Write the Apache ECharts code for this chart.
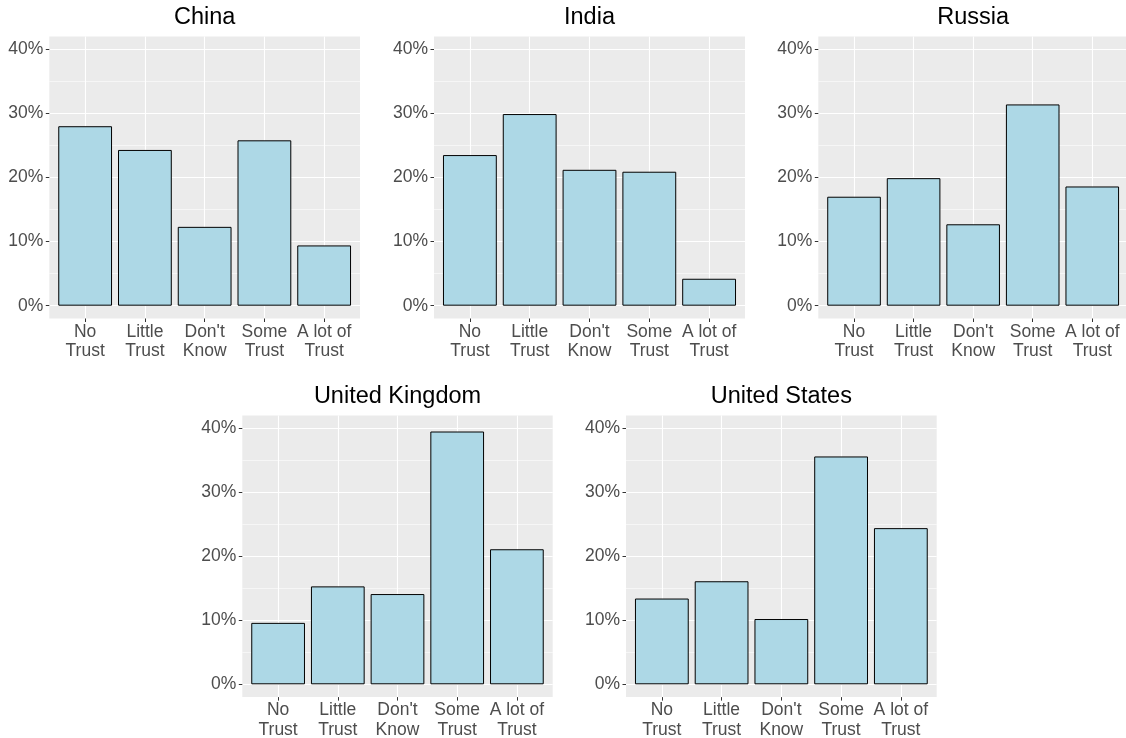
<!DOCTYPE html>
<html><head><meta charset="utf-8">
<script src="https://cdn.jsdelivr.net/npm/echarts@6/dist/echarts.min.js"></script>
<style>html,body{margin:0;padding:0;background:#fff}#c{width:1126px;height:738px}</style>
</head><body><div id="c"></div>
<script>
const categories = ['No\nTrust', 'Little\nTrust', "Don't\nKnow", 'Some\nTrust', 'A lot of\nTrust'];
const countries = ['China', 'India', 'Russia', 'United Kingdom', 'United States'];
const chinaValues = [28.0, 24.3, 12.3, 25.8, 9.4];
const indiaValues = [23.5, 29.9, 21.2, 20.9, 4.2];
const russiaValues = [17.0, 19.9, 12.7, 31.4, 18.6];
const ukValues = [9.6, 15.3, 14.1, 39.5, 21.1];
const usValues = [13.4, 16.1, 10.2, 35.6, 24.4];
const yTicks = [0, 10, 20, 30, 40];
const yMinorTicks = [5, 15, 25, 35];
const yTickLabels = ['0%', '10%', '20%', '30%', '40%'];

const seriesValues = [chinaValues, indiaValues, russiaValues, ukValues, usValues];
const panels = [
  {left: 49.3, top: 36.5, width: 310.7, height: 282},
  {left: 434, top: 36.5, width: 311, height: 282},
  {left: 818.3, top: 36.5, width: 309.7, height: 282},
  {left: 242.3, top: 415.5, width: 310.4, height: 281.6},
  {left: 626, top: 415.5, width: 310.7, height: 281.6}
];
const FONT = '"Liberation Sans", Arial, Helvetica, sans-serif';
const catIdx = categories.map((c, i) => i);

const grid = [], xAxis = [], yAxis = [], series = [], graphic = [];
panels.forEach((p, i) => {
  grid.push({left: p.left, top: p.top, width: p.width, height: p.height, show: true,
    backgroundColor: '#EBEBEB', borderWidth: 0, containLabel: false, outerBoundsMode: 'none'});
  xAxis.push({gridIndex: i, type: 'value', min: -0.6, max: 4.6, position: 'bottom',
    axisLine: {show: false, onZero: false},
    axisTick: {show: true, customValues: catIdx, length: 3.5, lineStyle: {color: '#333333', width: 1}},
    axisLabel: {customValues: catIdx, formatter: v => categories[Math.round(v)], color: '#4D4D4D',
      fontSize: 17.5, lineHeight: 19.5, margin: 3.5, fontFamily: FONT},
    splitLine: {show: true, lineStyle: {color: '#FFFFFF', width: 1.1}}
  });
  yAxis.push({gridIndex: i, type: 'value', min: -2, max: 42, position: 'left',
    axisLine: {show: false, onZero: false},
    axisTick: {show: true, customValues: yTicks, length: 3.5, lineStyle: {color: '#333333', width: 1}},
    axisLabel: {customValues: yTicks, formatter: v => yTickLabels[yTicks.indexOf(Math.round(v))],
      color: '#4D4D4D', fontSize: 17.5, margin: 6, fontFamily: FONT},
    splitLine: {show: true, lineStyle: {color: '#FFFFFF', width: 1.1}}
  });
  yAxis.push({gridIndex: i, type: 'value', min: -2, max: 42, position: 'right',
    axisLine: {show: false, onZero: false},
    axisTick: {show: false, customValues: yMinorTicks},
    axisLabel: {show: false, customValues: yMinorTicks},
    splitLine: {show: true, lineStyle: {color: '#FFFFFF', width: 0.55}}
  });
  series.push({type: 'bar', name: countries[i], xAxisIndex: i, yAxisIndex: 2 * i,
    data: seriesValues[i].map((v, j) => [j, v]),
    barWidth: 0.9 * p.width / 5.2,
    itemStyle: {color: '#ADD8E6', borderColor: '#000000', borderWidth: 1},
    silent: true
  });
  graphic.push({type: 'text', x: p.left + p.width / 2, y: p.top - 18.8,
    style: {text: countries[i], fill: '#000000', font: '23.5px ' + FONT,
      textAlign: 'center', textVerticalAlign: 'middle', align: 'center', verticalAlign: 'middle'}});
});

const chart = echarts.init(document.getElementById('c'), null, {renderer: 'canvas'});
chart.setOption({animation: false, grid, xAxis, yAxis, series, graphic});
</script>
</body></html>
